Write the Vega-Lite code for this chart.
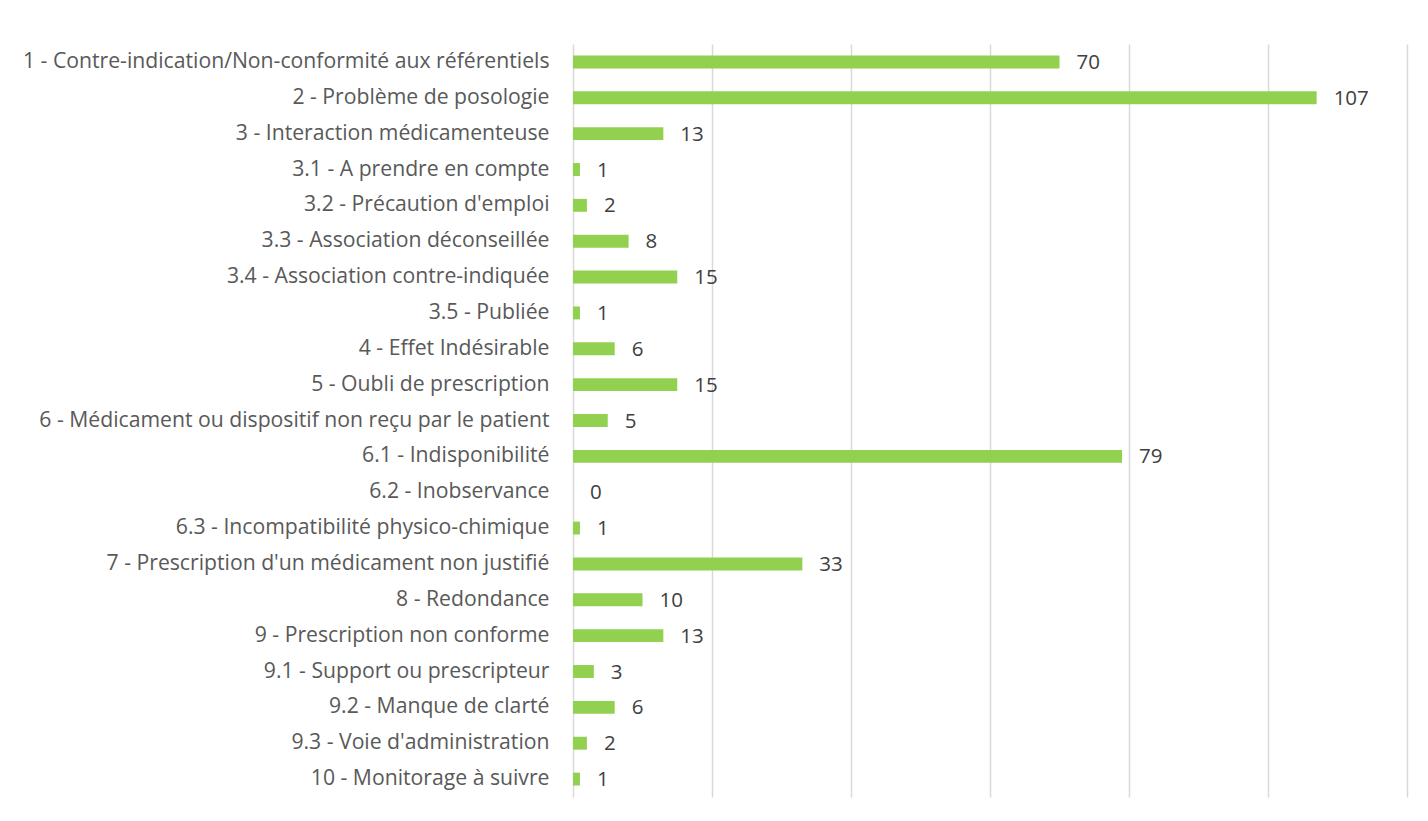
{
  "$schema": "https://vega.github.io/schema/vega-lite/v6.json",
  "autosize": "none",
  "width": 834,
  "height": 753,
  "padding": {"left": 573, "top": 44, "right": 21, "bottom": 24},
  "background": "white",
  "config": {"view": {"stroke": null}, "font": "Open Sans"},
  "data": {"values": [
    {"cat": "1 - Contre-indication/Non-conformité aux référentiels", "n": 70},
    {"cat": "2 - Problème de posologie", "n": 107},
    {"cat": "3 - Interaction médicamenteuse", "n": 13},
    {"cat": "3.1 - A prendre en compte", "n": 1},
    {"cat": "3.2 - Précaution d'emploi", "n": 2},
    {"cat": "3.3 - Association déconseillée", "n": 8},
    {"cat": "3.4 - Association contre-indiquée", "n": 15},
    {"cat": "3.5 - Publiée", "n": 1},
    {"cat": "4 - Effet Indésirable", "n": 6},
    {"cat": "5 - Oubli de prescription", "n": 15},
    {"cat": "6 - Médicament ou dispositif non reçu par le patient", "n": 5},
    {"cat": "6.1 - Indisponibilité", "n": 79},
    {"cat": "6.2 - Inobservance", "n": 0},
    {"cat": "6.3 - Incompatibilité physico-chimique", "n": 1},
    {"cat": "7 - Prescription d'un médicament non justifié", "n": 33},
    {"cat": "8 - Redondance", "n": 10},
    {"cat": "9 - Prescription non conforme", "n": 13},
    {"cat": "9.1 - Support ou prescripteur", "n": 3},
    {"cat": "9.2 - Manque de clarté", "n": 6},
    {"cat": "9.3 - Voie d'administration", "n": 2},
    {"cat": "10 - Monitorage à suivre", "n": 1}
  ]},
  "encoding": {
    "y": {
      "field": "cat", "type": "nominal", "sort": null,
      "scale": {"paddingInner": 0.64, "paddingOuter": 0.32},
      "axis": {
        "title": null, "domain": false, "ticks": false,
        "labelFontSize": 21.2, "labelColor": "#595959", "labelPadding": 24,
        "labelLimit": 700, "labelFont": "Open Sans"
      }
    },
    "x": {
      "field": "n", "type": "quantitative",
      "scale": {"domain": [0, 120], "nice": false},
      "axis": {
        "title": null, "values": [0, 20, 40, 60, 80, 100, 120],
        "labels": false, "ticks": false, "domain": false,
        "grid": true, "gridColor": "#d9d9d9", "gridWidth": 1.5
      }
    }
  },
  "layer": [
    {"mark": {"type": "bar", "color": "#92D050"}},
    {
      "mark": {"type": "text", "align": "left", "baseline": "middle", "dx": 17, "dy": 1, "fontSize": 20.5, "color": "#404040", "font": "Open Sans"},
      "encoding": {"text": {"field": "n", "type": "quantitative"}}
    }
  ]
}
